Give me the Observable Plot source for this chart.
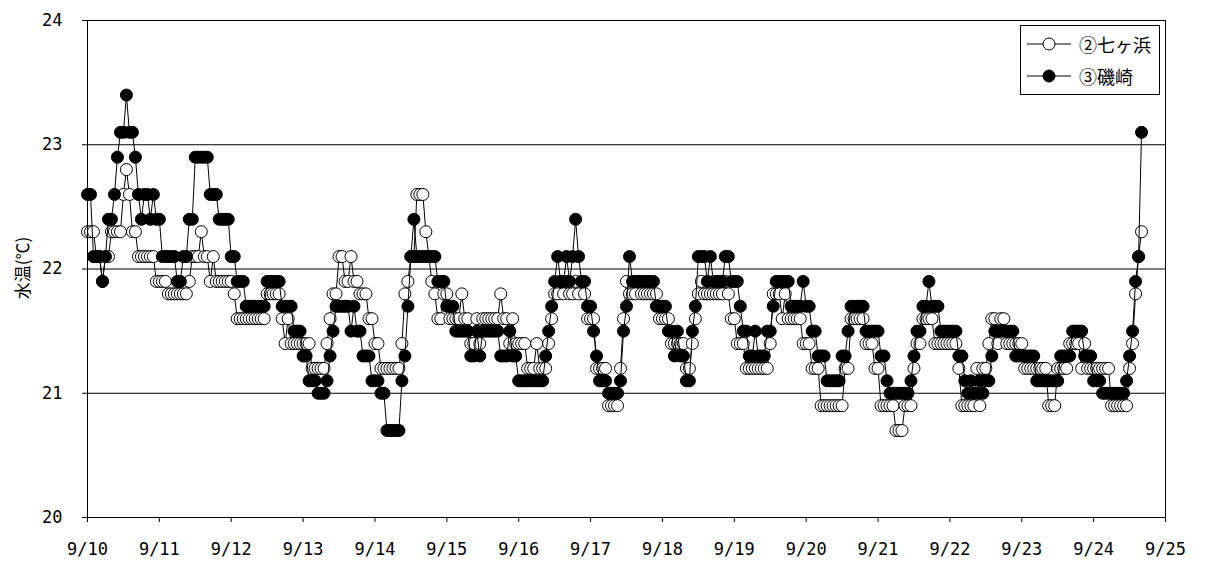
<!DOCTYPE html>
<html><head><meta charset="utf-8">
<script src="https://cdn.jsdelivr.net/npm/d3@7"></script>
<script src="https://cdn.jsdelivr.net/npm/@observablehq/plot@0.6"></script>
<style>
body{margin:0;background:#fff;}
#wrap{position:relative;width:1210px;height:562px;overflow:hidden;}
#legend{position:absolute;left:1020px;top:25px;width:140px;height:70px;border:1px solid #000;background:#fff;box-sizing:border-box;}
#ylab{position:absolute;left:21px;top:268px;transform:translate(-50%,-50%) rotate(-90deg);font-family:"Noto Sans CJK JP";font-size:17px;white-space:nowrap;}
</style></head><body><div id="wrap"></div>
<script>
// x tick labels (one per day, hour 0)
const dayLabels = ["9/10","9/11","9/12","9/13","9/14","9/15","9/16","9/17","9/18","9/19","9/20","9/21","9/22","9/23","9/24","9/25"];
const yTicks = [20, 21, 22, 23, 24];
const gridValues = [21, 22, 23];
const seriesNames = ["②七ヶ浜", "③磯崎"];
const yLabel = "水温(℃)";

// hourly water temperature, ②七ヶ浜 (open circles), from 9/10 0:00
const nanahama = [
  22.3,22.3,22.3,22.1,22.1,21.9,22.1,22.1,22.3,22.3,22.3,22.3,22.6,22.8,22.6,22.3,22.3,22.1,22.1,22.1,22.1,22.1,22.1,21.9, // 9/10
  21.9,21.9,21.9,21.8,21.8,21.8,21.8,21.8,21.8,21.8,21.9,22.1,22.1,22.1,22.3,22.1,22.1,21.9,22.1,21.9,21.9,21.9,21.9,21.9, // 9/11
  21.9,21.8,21.6,21.6,21.6,21.6,21.6,21.6,21.6,21.6,21.6,21.6,21.8,21.8,21.8,21.8,21.8,21.6,21.4,21.6,21.4,21.4,21.4,21.4, // 9/12
  21.4,21.4,21.4,21.2,21.2,21.2,21.2,21.2,21.4,21.6,21.8,21.8,22.1,22.1,21.9,21.9,22.1,21.9,21.9,21.8,21.8,21.8,21.6,21.6, // 9/13
  21.4,21.4,21.2,21.2,21.2,21.2,21.2,21.2,21.2,21.4,21.8,21.9,22.1,22.1,22.6,22.6,22.6,22.3,22.1,21.9,21.8,21.6,21.6,21.8, // 9/14
  21.8,21.6,21.6,21.6,21.6,21.8,21.6,21.6,21.4,21.4,21.6,21.4,21.6,21.6,21.6,21.6,21.6,21.6,21.8,21.6,21.6,21.4,21.6,21.4, // 9/15
  21.4,21.4,21.4,21.2,21.2,21.2,21.4,21.2,21.2,21.2,21.4,21.6,21.8,21.8,21.9,21.8,21.9,21.8,21.8,21.9,21.8,21.9,21.8,21.6, // 9/16
  21.6,21.6,21.2,21.2,21.2,21.2,20.9,20.9,20.9,20.9,21.2,21.6,21.9,21.8,21.8,21.8,21.9,21.8,21.8,21.8,21.8,21.8,21.8,21.6, // 9/17
  21.6,21.6,21.6,21.4,21.4,21.4,21.4,21.4,21.2,21.2,21.4,21.6,21.8,21.9,21.8,21.8,21.8,21.8,21.8,21.8,21.8,21.9,21.8,21.6, // 9/18
  21.6,21.4,21.4,21.4,21.2,21.2,21.2,21.2,21.2,21.2,21.2,21.2,21.4,21.8,21.8,21.8,21.6,21.8,21.6,21.6,21.6,21.6,21.6,21.4, // 9/19
  21.4,21.4,21.2,21.2,21.2,20.9,20.9,20.9,20.9,20.9,20.9,20.9,20.9,21.2,21.2,21.6,21.6,21.6,21.6,21.6,21.4,21.4,21.4,21.2, // 9/20
  21.2,20.9,20.9,20.9,20.9,20.9,20.7,20.7,20.7,20.9,20.9,20.9,21.2,21.4,21.4,21.6,21.6,21.6,21.6,21.4,21.4,21.4,21.4,21.4, // 9/21
  21.4,21.4,21.4,21.2,20.9,20.9,20.9,20.9,20.9,21.2,20.9,21.2,21.2,21.4,21.6,21.6,21.4,21.6,21.6,21.4,21.4,21.4,21.4,21.4, // 9/22
  21.4,21.2,21.2,21.2,21.2,21.2,21.2,21.2,21.2,20.9,20.9,20.9,21.2,21.2,21.2,21.2,21.4,21.4,21.4,21.4,21.2,21.4,21.2,21.2, // 9/23
  21.2,21.2,21.2,21.2,21.2,21.2,20.9,20.9,20.9,20.9,20.9,20.9,21.2,21.4,21.8,22.1,22.3                                      // 9/24
];

// hourly water temperature, ③磯崎 (filled circles), from 9/10 0:00
const isozaki = [
  22.6,22.6,22.1,22.1,22.1,21.9,22.1,22.4,22.4,22.6,22.9,23.1,23.1,23.4,23.1,23.1,22.9,22.6,22.4,22.6,22.6,22.4,22.6,22.4, // 9/10
  22.4,22.1,22.1,22.1,22.1,22.1,21.9,21.9,22.1,22.1,22.4,22.4,22.9,22.9,22.9,22.9,22.9,22.6,22.6,22.6,22.4,22.4,22.4,22.4, // 9/11
  22.1,22.1,21.9,21.9,21.9,21.7,21.7,21.7,21.7,21.7,21.7,21.7,21.9,21.9,21.9,21.9,21.9,21.7,21.7,21.7,21.7,21.5,21.5,21.5, // 9/12
  21.3,21.3,21.1,21.1,21.1,21.0,21.0,21.0,21.1,21.3,21.5,21.7,21.7,21.7,21.7,21.7,21.5,21.7,21.5,21.5,21.3,21.3,21.3,21.1, // 9/13
  21.1,21.1,21.0,21.0,20.7,20.7,20.7,20.7,20.7,21.1,21.3,21.7,22.1,22.4,22.1,22.1,22.1,22.1,22.1,22.1,22.1,21.9,21.9,21.9, // 9/14
  21.7,21.7,21.7,21.5,21.5,21.5,21.5,21.5,21.3,21.3,21.5,21.3,21.5,21.5,21.5,21.5,21.5,21.5,21.3,21.3,21.3,21.5,21.3,21.3, // 9/15
  21.1,21.1,21.1,21.1,21.1,21.1,21.1,21.1,21.1,21.3,21.5,21.7,21.9,22.1,21.9,21.9,22.1,21.9,22.1,22.4,22.1,21.9,21.9,21.7, // 9/16
  21.7,21.5,21.3,21.1,21.1,21.1,21.0,21.0,21.0,21.0,21.1,21.5,21.7,22.1,21.9,21.9,21.9,21.9,21.9,21.9,21.9,21.9,21.7,21.7, // 9/17
  21.7,21.7,21.5,21.5,21.3,21.5,21.3,21.3,21.1,21.1,21.5,21.7,22.1,22.1,22.1,21.9,22.1,21.9,21.9,21.9,21.9,22.1,22.1,21.9, // 9/18
  21.9,21.9,21.7,21.5,21.5,21.3,21.3,21.5,21.3,21.3,21.3,21.5,21.5,21.7,21.9,21.9,21.9,21.9,21.9,21.7,21.7,21.7,21.7,21.9, // 9/19
  21.7,21.7,21.5,21.5,21.3,21.3,21.3,21.1,21.1,21.1,21.1,21.1,21.3,21.3,21.5,21.7,21.7,21.7,21.7,21.7,21.5,21.5,21.5,21.5, // 9/20
  21.5,21.3,21.3,21.1,21.0,21.0,21.0,21.0,21.0,21.0,21.0,21.1,21.3,21.5,21.5,21.7,21.7,21.9,21.7,21.7,21.7,21.5,21.5,21.5, // 9/21
  21.5,21.5,21.5,21.3,21.3,21.1,21.0,21.1,21.0,21.0,21.1,21.0,21.1,21.1,21.3,21.5,21.5,21.5,21.5,21.5,21.5,21.5,21.3,21.3, // 9/22
  21.3,21.3,21.3,21.3,21.3,21.1,21.1,21.1,21.1,21.1,21.1,21.1,21.1,21.3,21.3,21.3,21.3,21.5,21.5,21.5,21.5,21.3,21.3,21.3, // 9/23
  21.1,21.1,21.1,21.0,21.0,21.0,21.0,21.0,21.0,21.0,21.0,21.1,21.3,21.5,21.9,22.1,23.1                                      // 9/24
];

const dataN = nanahama.map((v, i) => ({hour: i, temp: v}));
const dataI = isozaki.map((v, i) => ({hour: i, temp: v}));
const dayTicks = dayLabels.map((d, i) => i * 24);
const font = "'DejaVu Sans Mono', monospace";

const chart = Plot.plot({
  width: 1210,
  height: 562,
  marginLeft: 87,
  marginRight: 45,
  marginTop: 20,
  marginBottom: 45,
  style: {fontFamily: font, background: "white", color: "black"},
  x: {domain: [0, 360]},
  y: {domain: [20, 24]},
  marks: [
    Plot.ruleY(gridValues, {stroke: "black", strokeWidth: 1}),
    Plot.axisX({ticks: dayTicks, tickFormat: (d) => dayLabels[Math.round(d / 24)], tickSize: 5, tickPadding: 20, label: null, fontSize: 17, fontFamily: font}),
    Plot.axisY({ticks: yTicks, tickFormat: (d) => String(d), tickSize: 5, tickPadding: 20, label: null, fontSize: 17, fontFamily: font}),
    Plot.line(dataN, {x: "hour", y: "temp", stroke: "black", strokeWidth: 1}),
    Plot.dot(dataN, {x: "hour", y: "temp", r: 6, fill: "white", stroke: "black", strokeWidth: 1}),
    Plot.line(dataI, {x: "hour", y: "temp", stroke: "black", strokeWidth: 1}),
    Plot.dot(dataI, {x: "hour", y: "temp", r: 6, fill: "black", stroke: "black", strokeWidth: 1}),
    Plot.frame({stroke: "black", strokeWidth: 1})
  ]
});

const wrap = document.getElementById("wrap");
wrap.appendChild(chart);

const yl = document.createElement("div");
yl.id = "ylab";
yl.textContent = yLabel;
wrap.appendChild(yl);

// legend
const leg = document.createElement("div");
leg.id = "legend";
const fills = ["white", "black"];
leg.innerHTML = seriesNames.map((n, i) =>
  `<div style="display:flex;align-items:center;height:32px;margin-top:${i === 0 ? 2 : 0}px">
     <svg width="50" height="20" style="margin-left:4px"><line x1="2" x2="46" y1="10" y2="10" stroke="black"/><circle cx="24" cy="10" r="6" fill="${fills[i]}" stroke="black"/></svg>
     <span style="font-family:'Noto Sans CJK JP';font-size:18px;margin-left:4px">${n}</span>
   </div>`).join("");
wrap.appendChild(leg);
</script>
</body></html>
